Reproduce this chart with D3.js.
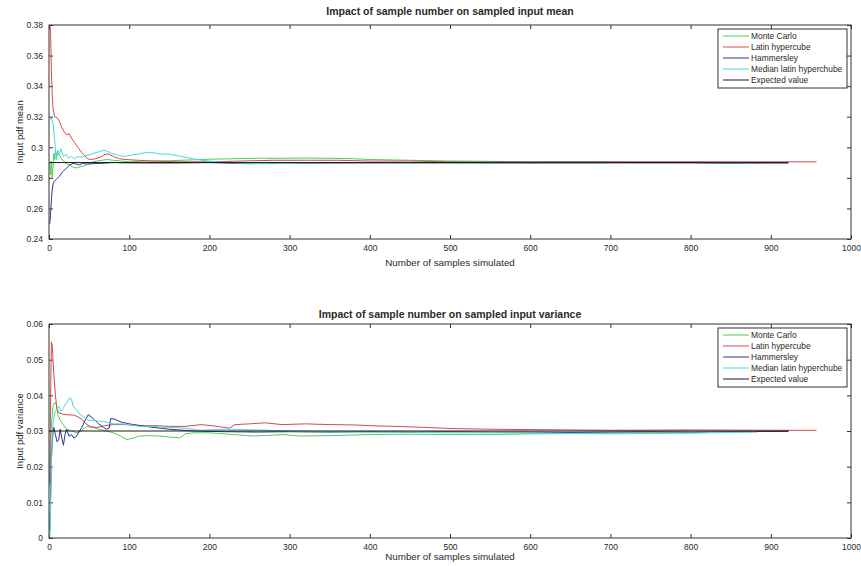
<!DOCTYPE html>
<html>
<head>
<meta charset="utf-8">
<script src="https://cdn.jsdelivr.net/npm/d3@7"></script>
<style>
  body { margin: 0; background: #fff; }
  svg text { font-family: "Liberation Sans", Arial, sans-serif; fill: #2a2a2a; }
  .axis path { display: none; }
  .axis line { stroke: #333; }
  .axis text { font-size: 8.5px; }
</style>
</head>
<body>
<div id="visualization"></div>
<script>
// ---- data ----
const seriesNames = ['Monte Carlo', 'Latin hypercube', 'Hammersley', 'Median latin hyperchube', 'Expected value'];
const xTicks = [0, 100, 200, 300, 400, 500, 600, 700, 800, 900, 1000];
const meanTicks = [0.24, 0.26, 0.28, 0.3, 0.32, 0.34, 0.36, 0.38];
const varTicks = [0, 0.01, 0.02, 0.03, 0.04, 0.05, 0.06];

// sampled input mean, [samples, value]
const meanMonteCarlo = [[1,0.29],[2,0.282],[3,0.291],[4,0.28],[5,0.287],[6,0.296],[7,0.292],[8,0.298],[10,0.294],[12,0.296],[15,0.293],[18,0.291],[21,0.2895],[25,0.2885],[30,0.287],[35,0.2865],[40,0.2875],[45,0.288],[50,0.2895],[55,0.2905],[60,0.291],[66,0.2915],[72,0.292],[80,0.2915],[90,0.291],[100,0.2905],[120,0.291],[150,0.2912],[180,0.2918],[200,0.2922],[230,0.2925],[260,0.2928],[290,0.2928],[320,0.293],[350,0.2928],[380,0.2925],[400,0.292],[450,0.2915],[500,0.291],[550,0.2908],[600,0.2905],[650,0.2905],[700,0.2905],[750,0.2903],[800,0.2903],[820,0.2903]];
const meanLatin = [[1,0.38],[2,0.375],[3,0.35],[4,0.335],[5,0.325],[7,0.32],[10,0.3195],[13,0.317],[16,0.313],[19,0.31],[22,0.308],[25,0.309],[28,0.306],[32,0.303],[36,0.3],[40,0.297],[44,0.295],[48,0.2925],[52,0.292],[58,0.2925],[64,0.2935],[70,0.2955],[75,0.2955],[80,0.294],[88,0.2925],[96,0.292],[110,0.2915],[130,0.291],[160,0.2905],[200,0.2905],[240,0.291],[280,0.2915],[320,0.2915],[360,0.2915],[400,0.291],[450,0.291],[500,0.2905],[600,0.2905],[700,0.2905],[800,0.2905],[900,0.2905],[957,0.2905]];
const meanHammersley = [[1,0.25],[2,0.257],[3,0.266],[4,0.272],[5,0.276],[7,0.278],[9,0.279],[11,0.28],[13,0.281],[15,0.2825],[17,0.284],[20,0.2855],[23,0.287],[26,0.2885],[30,0.2895],[34,0.289],[38,0.2885],[42,0.2895],[48,0.289],[55,0.2893],[65,0.2895],[80,0.29],[100,0.2898],[150,0.2897],[200,0.29],[250,0.2893],[300,0.2895],[350,0.2897],[400,0.2898],[500,0.2898],[600,0.2897],[700,0.2898],[800,0.2898],[850,0.2895],[900,0.2897],[922,0.2897]];
const meanMedianLatin = [[1,0.318],[3,0.319],[5,0.316],[7,0.305],[9,0.292],[11,0.298],[13,0.296],[15,0.299],[18,0.294],[21,0.2955],[24,0.293],[28,0.294],[32,0.2925],[36,0.294],[40,0.2935],[45,0.2945],[50,0.295],[55,0.296],[62,0.297],[68,0.298],[72,0.2975],[78,0.296],[85,0.295],[92,0.294],[100,0.2945],[110,0.2955],[120,0.2965],[130,0.2965],[140,0.2955],[150,0.2955],[160,0.2945],[170,0.2935],[180,0.2925],[190,0.2915],[210,0.2905],[240,0.2895],[280,0.2893],[320,0.2897],[360,0.29],[400,0.29],[450,0.2898],[500,0.2897],[550,0.2895],[600,0.2898],[650,0.2895],[700,0.29],[750,0.2898],[800,0.29],[850,0.2898],[880,0.2897]];
const meanExpected = [[0,0.29],[922,0.29]];

// sampled input variance, [samples, value]
const varMonteCarlo = [[1,0.015],[2,0.025],[3,0.032],[5,0.037],[7,0.038],[9,0.0375],[11,0.0345],[14,0.033],[17,0.032],[22,0.0305],[28,0.03],[35,0.0295],[40,0.03],[47,0.0313],[55,0.031],[64,0.0304],[72,0.03],[80,0.0295],[90,0.0285],[97,0.0276],[105,0.028],[113,0.0286],[125,0.0287],[138,0.0286],[150,0.0283],[163,0.0281],[170,0.0292],[180,0.0295],[200,0.0295],[230,0.029],[255,0.0286],[275,0.0288],[292,0.029],[313,0.0286],[350,0.0287],[400,0.029],[450,0.0291],[500,0.029],[550,0.029],[600,0.0292],[650,0.0293],[700,0.0294],[750,0.0295],[800,0.0295],[820,0.0296]];
const varLatin = [[1,0.015],[2,0.04],[3,0.055],[4,0.054],[5,0.05],[6,0.046],[8,0.04],[10,0.036],[13,0.035],[18,0.0347],[24,0.0345],[30,0.0345],[36,0.034],[41,0.0333],[46,0.032],[52,0.0312],[60,0.031],[70,0.0315],[80,0.0318],[95,0.0318],[110,0.0315],[130,0.0315],[150,0.0313],[170,0.0313],[190,0.0318],[210,0.0313],[225,0.0308],[232,0.0318],[250,0.032],[270,0.0323],[290,0.0318],[320,0.032],[350,0.0318],[380,0.0317],[400,0.0315],[430,0.0313],[470,0.031],[500,0.0307],[550,0.0305],[600,0.0304],[650,0.0303],[700,0.0302],[800,0.0303],[900,0.0302],[957,0.0302]];
const varHammersley = [[1,0.002],[2,0.012],[3,0.022],[4,0.027],[5,0.0295],[6,0.031],[8,0.029],[10,0.027],[12,0.0275],[14,0.0305],[16,0.028],[18,0.026],[20,0.029],[22,0.0305],[25,0.0285],[28,0.029],[31,0.028],[34,0.0285],[38,0.03],[41,0.031],[45,0.033],[49,0.0346],[55,0.0335],[62,0.032],[68,0.031],[72,0.0305],[75,0.0308],[77,0.0335],[82,0.0333],[90,0.0325],[100,0.032],[115,0.0315],[130,0.031],[150,0.0305],[180,0.03],[220,0.0298],[260,0.0297],[300,0.0298],[350,0.0297],[400,0.0298],[450,0.0297],[500,0.0298],[550,0.0297],[600,0.0297],[650,0.0296],[700,0.0297],[750,0.0298],[800,0.0297],[850,0.0298],[922,0.0299]];
const varMedianLatin = [[1,0],[2,0.009],[3,0.02],[4,0.0286],[5,0.032],[7,0.035],[9,0.036],[12,0.037],[15,0.0355],[18,0.0365],[22,0.038],[26,0.0393],[28,0.039],[30,0.037],[34,0.036],[39,0.0346],[44,0.0338],[49,0.033],[56,0.033],[64,0.0327],[72,0.0325],[80,0.032],[90,0.032],[100,0.0318],[113,0.0313],[130,0.0313],[150,0.031],[170,0.0308],[188,0.0302],[220,0.0305],[260,0.0303],[300,0.03],[350,0.0298],[400,0.0297],[450,0.0297],[500,0.0295],[550,0.0295],[600,0.0294],[650,0.0293],[700,0.0292],[750,0.0293],[800,0.0294],[850,0.0296],[883,0.0297]];
const varExpected = [[0,0.03],[922,0.03]];

const colors = ['#4fd04f', '#d44a4a', '#30309a', '#45dada', '#1a1a1a'];

const width = 861;
const height = 566;

const svg = d3.select('#visualization')
  .append('svg')
  .attr('width', width)
  .attr('height', height);

function drawPanel(cfg) {
  const { left, right, top, bottom } = cfg;
  const x = d3.scaleLinear().domain([0, 1000]).range([left, right]);
  const y = d3.scaleLinear().domain(cfg.yDomain).range([bottom, top]);
  const g = svg.append('g');

  // clip so lines stay inside the box
  g.append('clipPath').attr('id', cfg.id)
    .append('rect')
    .attr('x', left).attr('y', top)
    .attr('width', right - left).attr('height', bottom - top);

  const fmt = d => String(+d.toFixed(2));

  // matlab style axes: ticks pointing inward on all four sides
  g.append('g').attr('class', 'axis')
    .attr('transform', `translate(0,${bottom})`)
    .call(d3.axisBottom(x).tickValues(xTicks).tickFormat(d => String(d)).tickSizeInner(-4).tickSizeOuter(0).tickPadding(6));
  g.append('g').attr('class', 'axis')
    .attr('transform', `translate(0,${top})`)
    .call(d3.axisTop(x).tickValues(xTicks).tickSizeInner(-4).tickSizeOuter(0).tickFormat(''));
  g.append('g').attr('class', 'axis')
    .attr('transform', `translate(${left},0)`)
    .call(d3.axisLeft(y).tickValues(cfg.yTicks).tickFormat(fmt).tickSizeInner(-4).tickSizeOuter(0).tickPadding(6));
  g.append('g').attr('class', 'axis')
    .attr('transform', `translate(${right},0)`)
    .call(d3.axisRight(y).tickValues(cfg.yTicks).tickSizeInner(-4).tickSizeOuter(0).tickFormat(''));

  const line = d3.line().x(d => x(d[0])).y(d => y(d[1]));

  g.append('g').attr('clip-path', `url(#${cfg.id})`)
    .selectAll('path')
    .data(cfg.series)
    .join('path')
    .attr('d', line)
    .attr('fill', 'none')
    .attr('stroke', (d, i) => colors[i])
    .attr('stroke-width', 1);

  g.append('rect')
    .attr('x', left).attr('y', top)
    .attr('width', right - left).attr('height', bottom - top)
    .attr('fill', 'none').attr('stroke', '#333');

  // title and labels
  g.append('text')
    .attr('x', (left + right) / 2).attr('y', top - cfg.titleGap)
    .attr('text-anchor', 'middle')
    .style('font-size', '10.5px').style('font-weight', 'bold')
    .text(cfg.title);
  g.append('text')
    .attr('x', (left + right) / 2).attr('y', bottom + cfg.xLabelGap)
    .attr('text-anchor', 'middle')
    .style('font-size', '9.8px')
    .text('Number of samples simulated');
  g.append('text')
    .attr('transform', `translate(${left - 26},${(top + bottom) / 2}) rotate(-90)`)
    .attr('text-anchor', 'middle')
    .style('font-size', '9.5px')
    .text(cfg.yLabel);

  // legend box in the upper right corner
  const lg = g.append('g').attr('transform', `translate(${right - 133},${top + 4})`);
  lg.append('rect')
    .attr('width', 129).attr('height', 59)
    .attr('fill', '#fff').attr('stroke', '#333');
  seriesNames.forEach((name, i) => {
    const yy = 7 + i * 11;
    lg.append('line')
      .attr('x1', 5).attr('x2', 31).attr('y1', yy).attr('y2', yy)
      .attr('stroke', colors[i]).attr('stroke-width', 1);
    lg.append('text')
      .attr('x', 33).attr('y', yy + 3)
      .style('font-size', '8.4px')
      .text(name);
  });
}

drawPanel({
  id: 'clipMean',
  left: 49, right: 851, top: 25, bottom: 239,
  titleGap: 10, xLabelGap: 27,
  yDomain: [0.24, 0.38], yTicks: meanTicks,
  title: 'Impact of sample number on sampled input mean',
  yLabel: 'Input pdf mean',
  series: [meanMonteCarlo, meanLatin, meanHammersley, meanMedianLatin, meanExpected]
});

drawPanel({
  id: 'clipVar',
  left: 49, right: 851, top: 324, bottom: 538,
  titleGap: 6, xLabelGap: 22,
  yDomain: [0, 0.06], yTicks: varTicks,
  title: 'Impact of sample number on sampled input variance',
  yLabel: 'Input pdf variance',
  series: [varMonteCarlo, varLatin, varHammersley, varMedianLatin, varExpected]
});
</script>
</body>
</html>
